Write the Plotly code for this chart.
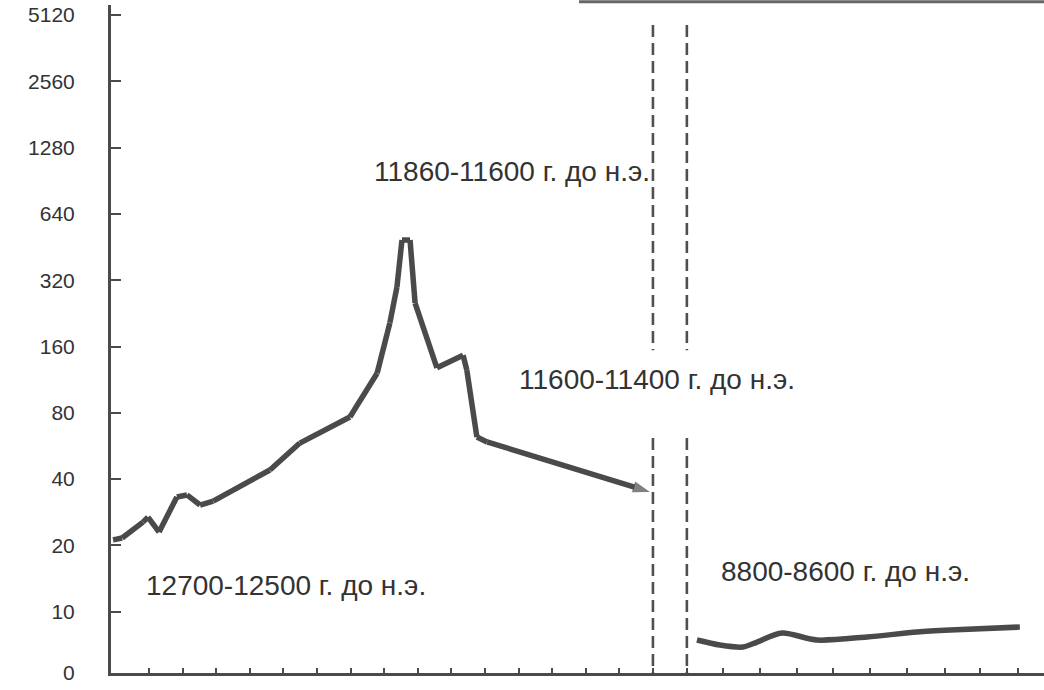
import math
import plotly.graph_objects as go

# ---- data (x = position in tick units, y = value on doubling scale) ----
main_x = [-0.07, 0.20, 0.82, 0.97, 1.30, 1.83, 2.13, 2.52, 2.91, 4.60, 5.49, 6.98,
          7.79, 8.17, 8.38, 8.53, 8.77, 8.92, 9.57, 10.35, 10.46, 10.76, 11.06, 15.91]
main_y = [21.2, 21.6, 25.5, 26.9, 23.0, 33.2, 33.9, 30.5, 31.8, 44.0, 58.3, 76.6,
          121, 205, 298, 487, 487, 252, 128, 146, 125, 62.1, 59.0, 35.0]

late_x = [17.31, 17.99, 18.68, 19.10, 19.84, 20.88, 22.37, 23.86, 24.84, 26.92]
late_y = [7.44, 7.06, 6.91, 7.28, 8.00, 7.44, 7.68, 8.09, 8.26, 8.52]

break_x = [16.0, 17.01]
break_upper = [4612, 154]
break_lower = [61.5, 5.27]

y_tickvals = [5.27, 10, 20, 40, 80, 160, 320, 640, 1280, 2560, 5120]
y_ticktext = ["0", "10", "20", "40", "80", "160", "320", "640", "1280", "2560", "5120"]
x_tickvals = [1, 2, 3, 4, 5, 6, 7, 8, 9, 10, 11, 12, 13, 14, 15, 16,
              17.01, 18.08, 19.18, 20.29, 21.36, 22.46, 23.56, 24.69, 25.73, 26.86]

labels = ["11860-11600 г. до н.э.", "11600-11400 г. до н.э.",
          "12700-12500 г. до н.э.", "8800-8600 г. до н.э."]
label_x = [11.80, 16.12, 5.08, 21.74]
label_y = [992, 113.9, 13.22, 15.15]

INK = "#4a4a4a"
TXT = "#333333"
FONT = "Liberation Sans, Arial, sans-serif"

fig = go.Figure()

n = len(main_x)
fig.add_trace(go.Scatter(
    x=main_x, y=main_y, mode="lines+markers",
    line=dict(color=INK, width=5.5),
    marker=dict(symbol="arrow", angleref="previous",
                size=[0] * (n - 1) + [18], color=INK, line=dict(width=0)),
    hoverinfo="skip", showlegend=False))

fig.add_trace(go.Scatter(
    x=late_x, y=late_y, mode="lines",
    line=dict(color=INK, width=5.5, shape="spline", smoothing=0.8),
    hoverinfo="skip", showlegend=False))

for bx in break_x:
    for seg in (break_upper, break_lower):
        fig.add_trace(go.Scatter(
            x=[bx, bx], y=seg, mode="lines",
            line=dict(color="#4f4f4f", width=2.6, dash="12px,6px"),
            hoverinfo="skip", showlegend=False))

for t, lx, ly in zip(labels, label_x, label_y):
    fig.add_annotation(x=lx, y=math.log10(ly), xref="x", yref="y", text=t,
                       showarrow=False, font=dict(family=FONT, size=28, color=TXT))

# scan frame line at top right
fig.add_shape(type="line", xref="x", yref="paper", x0=13.8, x1=27.64, y0=1.005, y1=1.005,
              line=dict(color="#666666", width=3))

fig.update_layout(
    width=1044, height=690,
    margin=dict(l=111, r=0, t=5, b=17),
    paper_bgcolor="white", plot_bgcolor="white",
    font=dict(family=FONT, color=TXT),
    xaxis=dict(range=[-0.131, 27.64], showgrid=False, zeroline=False,
               showline=True, linecolor=INK, linewidth=3,
               tickmode="array", tickvals=x_tickvals, ticktext=[""] * len(x_tickvals),
               ticks="inside", ticklen=5, tickwidth=2, tickcolor=INK),
    yaxis=dict(type="log", range=[math.log10(5.27), math.log10(5683)],
               showgrid=False, zeroline=False,
               showline=True, linecolor=INK, linewidth=3,
               tickmode="array", tickvals=y_tickvals, ticktext=y_ticktext,
               ticks="inside", ticklen=10, tickwidth=2, tickcolor=INK,
               ticklabelstandoff=29,
               tickfont=dict(family=FONT, size=21, color=TXT)),
)

fig.write_html("out.html", config={"displayModeBar": False},
               post_script="document.body.style.margin='0';")
